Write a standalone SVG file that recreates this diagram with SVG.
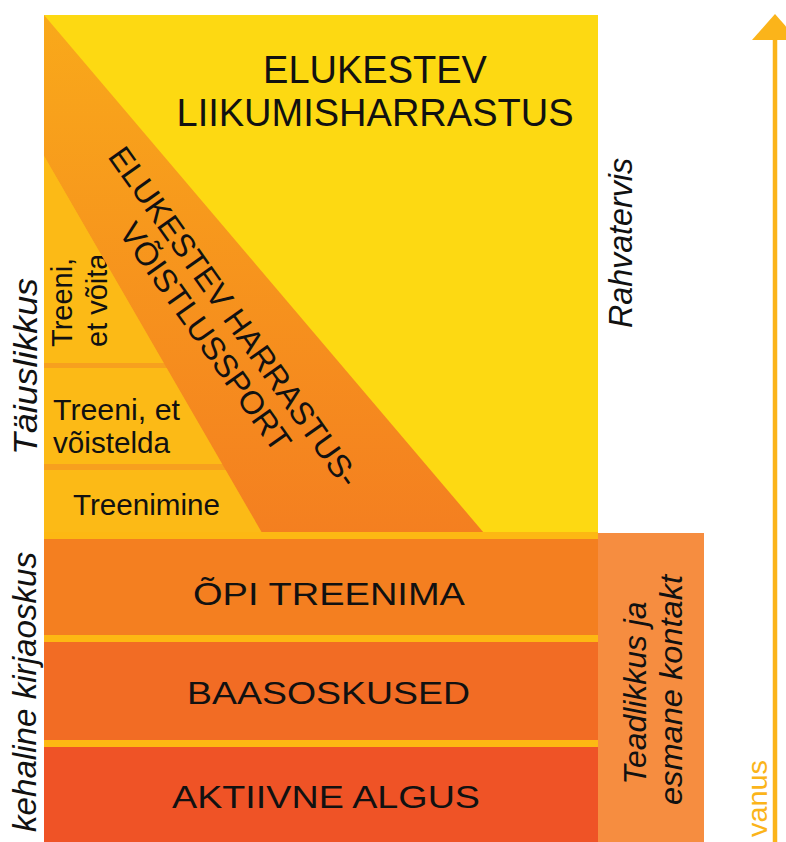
<svg xmlns="http://www.w3.org/2000/svg" width="786" height="842" viewBox="0 0 786 842">
<defs>
<linearGradient id="bandGrad" x1="0" y1="0" x2="0" y2="1">
<stop offset="0" stop-color="#F9A91A"/>
<stop offset="1" stop-color="#F47F20"/>
</linearGradient>
</defs>
<style>
.t{font-family:"Liberation Sans",Arial,sans-serif;fill:#111;}
.it{font-style:italic;}
.strip{fill:#FDB813;}
</style>
<rect width="786" height="842" fill="#FFFFFF"/>
<g id="lifelong-recreation">
<rect x="44" y="15" width="554" height="518" fill="#FDD912"/>
<text class="t" x="375" y="83" font-size="38" text-anchor="middle">ELUKESTEV</text>
<text class="t" x="375" y="126" font-size="38" text-anchor="middle">LIIKUMISHARRASTUS</text>
</g>
<g id="training-levels">
<polygon points="44,156 262,533 44,533" fill="#FCBA16"/>
<rect x="44" y="363" width="200" height="5" fill="#F7A01E"/>
<rect x="44" y="464" width="230" height="6" fill="#F7A01E"/>
<text class="t" font-size="29" transform="translate(72,347) rotate(-90)">Treeni,</text>
<text class="t" font-size="29" transform="translate(107,347) rotate(-90)">et võita</text>
<text class="t" x="53" y="420" font-size="29" textLength="127" lengthAdjust="spacingAndGlyphs">Treeni, et</text>
<text class="t" x="53" y="453" font-size="29" textLength="117" lengthAdjust="spacingAndGlyphs">võistelda</text>
<text class="t" x="73" y="515" font-size="29" textLength="147" lengthAdjust="spacingAndGlyphs">Treenimine</text>
</g>
<g id="competitive-sport">
<polygon points="44,15 484,533 262,533 44,156" fill="url(#bandGrad)"/>
<g transform="translate(225,323) rotate(54.7)">
<text class="t" x="0" y="0" font-size="32" text-anchor="middle" textLength="408" lengthAdjust="spacingAndGlyphs">ELUKESTEV HARRASTUS-</text>
<text class="t" x="0" y="35" font-size="32" text-anchor="middle" textLength="272" lengthAdjust="spacingAndGlyphs">VÕISTLUSSPORT</text>
</g>
</g>
<g id="learn-to-train">
<rect class="strip" x="44" y="532" width="554" height="7"/>
<rect x="44" y="539" width="554" height="96" fill="#F47F20"/>
<text class="t" x="329" y="605" font-size="32" text-anchor="middle" textLength="272" lengthAdjust="spacingAndGlyphs">ÕPI TREENIMA</text>
</g>
<g id="fundamentals">
<rect class="strip" x="44" y="635" width="554" height="7"/>
<rect x="44" y="642" width="554" height="98" fill="#F26C24"/>
<text class="t" x="328.5" y="704" font-size="32" text-anchor="middle" textLength="283" lengthAdjust="spacingAndGlyphs">BAASOSKUSED</text>
</g>
<g id="active-start">
<rect class="strip" x="44" y="740" width="554" height="7"/>
<rect x="44" y="747" width="554" height="95" fill="#EF5326"/>
<text class="t" x="326" y="808" font-size="32" text-anchor="middle" textLength="308" lengthAdjust="spacingAndGlyphs">AKTIIVNE ALGUS</text>
</g>
<g id="awareness">
<rect x="598" y="533" width="106" height="309" fill="#F68D40"/>
<text class="t it" font-size="32" text-anchor="middle" textLength="183" lengthAdjust="spacingAndGlyphs" transform="translate(646,693) rotate(-90)">Teadlikkus ja</text>
<text class="t it" font-size="32" text-anchor="middle" textLength="230" lengthAdjust="spacingAndGlyphs" transform="translate(682,690) rotate(-90)">esmane kontakt</text>
</g>
<g id="side-labels">
<text class="t it" font-size="33" textLength="170" lengthAdjust="spacingAndGlyphs" transform="translate(632,328) rotate(-90)">Rahvatervis</text>
<text class="t it" font-size="34" textLength="177" lengthAdjust="spacingAndGlyphs" transform="translate(37,455) rotate(-90)">Täiuslikkus</text>
<text class="t it" font-size="33" textLength="280" lengthAdjust="spacingAndGlyphs" transform="translate(36,832) rotate(-90)">kehaline kirjaoskus</text>
</g>
<g id="connectors">
<line x1="775" y1="38" x2="775" y2="842" stroke="#FBB41A" stroke-width="4.5"/>
<polygon points="775,14 752,40 798,40" fill="#FBB41A"/>
<text font-family="Liberation Sans, Arial, sans-serif" font-size="28" fill="#FBB41A" textLength="77" lengthAdjust="spacingAndGlyphs" transform="translate(767,837) rotate(-90)">vanus</text>
</g>
</svg>
